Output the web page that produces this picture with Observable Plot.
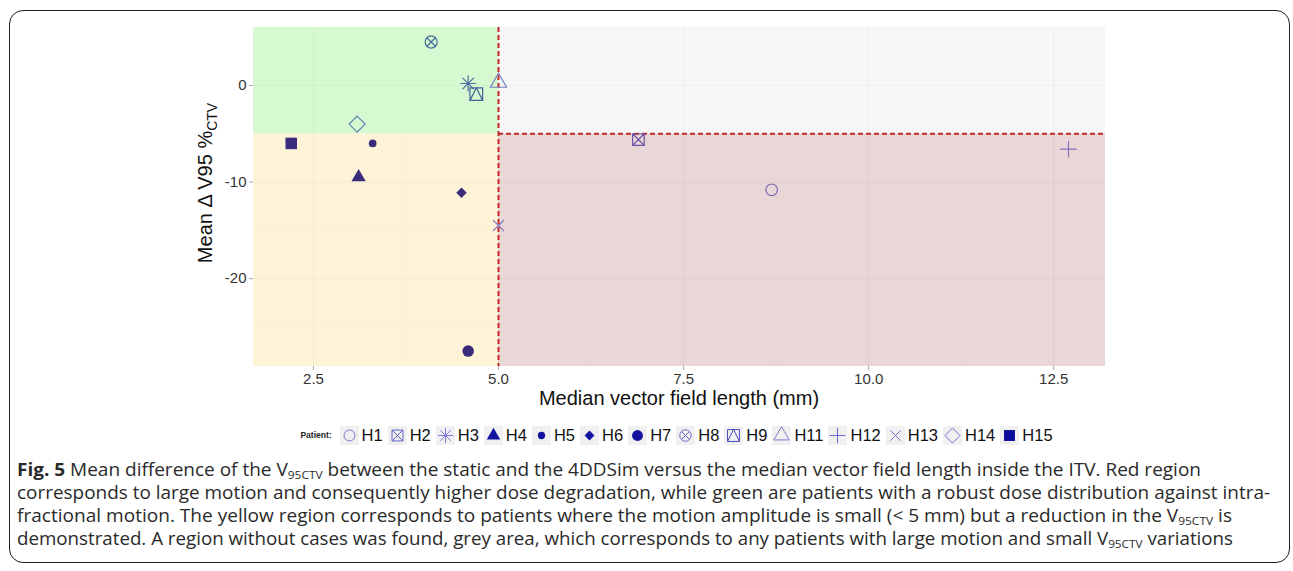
<!DOCTYPE html>
<html>
<head>
<meta charset="utf-8">
<script src="https://cdn.jsdelivr.net/npm/d3@7"></script>
<script src="https://cdn.jsdelivr.net/npm/@observablehq/plot@0.6"></script>
<style>
  html, body { margin: 0; padding: 0; background: #fff; }
  #page { position: relative; width: 1293px; height: 571px; overflow: hidden; font-family: "Liberation Sans", Arial, sans-serif; }
  #frame { position: absolute; left: 9px; top: 10px; width: 1281px; height: 553px; border: 1.6px solid #1e1e1e; border-radius: 14px; box-sizing: border-box; }
  #chart { position: absolute; left: 0; top: 0; }
  #legend { position: absolute; top: 425px; left: 0; width: 1358px; display: flex; justify-content: center; align-items: center; height: 20px; }
  #legend .title { font-size: 8.5px; font-weight: bold; color: #222; margin-right: 8px; }
  #legend .item { display: flex; align-items: center; margin-right: 5px; }
  #legend .item svg { display: block; margin-right: 3px; }
  #legend .item span { font-size: 16.5px; color: #111; }
  #caption { position: absolute; left: 17px; top: 458px; color: #2a2a2a;
    font-family: "Open Sans", "Liberation Sans Narrow", sans-serif; font-size: 17.5px; }
  #caption .line { height: 23px; line-height: 23px; white-space: nowrap; transform-origin: 0 50%; display: block; width: max-content; }
  #caption sub { font-size: 11px; vertical-align: -3px; line-height: 0; }
</style>
</head>
<body>
<div id="page">
  <div id="frame"></div>
  <div id="chart"></div>
  <div id="legend"></div>
  <div id="caption"></div>
</div>
<script>
// ---------------- data ----------------
const patients = ["H1","H2","H3","H4","H5","H6","H7","H8","H9","H11","H12","H13","H14","H15"];
const medianVectorLength = [8.69, 6.89, 4.59, 3.11, 3.30, 4.50, 4.59, 4.09, 4.70, 5.00, 12.70, 5.00, 3.09, 2.20];
const meanDeltaV95 = [-10.8, -5.6, 0.2, -9.5, -6.0, -11.1, -27.5, 4.5, -0.9, 0.3, -6.6, -14.5, -4.0, -6.0];
const shapes = ["circleOpen","squareCross","asterisk","triangle","dotSmall","diamond","circle","circleCross","squareTriangle","triangleOpen","plus","cross","diamondOpen","square"];
const xTicks = [2.5, 5.0, 7.5, 10.0, 12.5];
const xMinor = [3.75, 6.25, 8.75, 11.25];
const yTicks = [-20, -10, 0];
const yMinor = [-25, -15, -5, 5];
const xDomain = [1.69, 13.2];
const yDomain = [-29.1, 6.0];
const motionThreshold = 5;     // mm
const doseThreshold = -5;      // %

// ---------------- styles ----------------
const pointColors = ["#7d66b5","#6a52a6","#4a6e9f","#3a2c7c","#3a2c7c","#3a2c7c","#3a2c7c","#466e99","#3f6596","#7a80c6","#8a70b8","#8a7ac0","#5a80b0","#3a2c7c"];
const legendColors = ["#7676d2","#6464c8","#7c7ce0","#12129e","#12129e","#12129e","#12129e","#6a6acc","#5050c0","#7e7ed0","#6a6ad8","#7a7ad8","#7070d8","#0c0c9a"];
const regionColors = { green: "#d7f9d1", yellow: "#fdf4d8", red: "#e9d6d6", grey: "#f7f7f7" };
const dashColor = "#c4282b";

// custom symbols (ggplot shapes)
function sym(drawFn, filled) { return { filled, draw(ctx, size) { drawFn(ctx, Math.sqrt(size / Math.PI)); } }; }
const symbols = {
  circleOpen: sym((c, r) => { r *= 1.05; c.moveTo(r, 0); c.arc(0, 0, r, 0, 2 * Math.PI); }, false),
  circle: sym((c, r) => { r *= 1.05; c.moveTo(r, 0); c.arc(0, 0, r, 0, 2 * Math.PI); }, true),
  dotSmall: sym((c, r) => { r *= 0.7; c.moveTo(r, 0); c.arc(0, 0, r, 0, 2 * Math.PI); }, true),
  square: sym((c, r) => { const s = r * 1.05; c.rect(-s, -s, 2 * s, 2 * s); }, true),
  squareCross: sym((c, r) => { const s = r * 1.05; c.rect(-s, -s, 2 * s, 2 * s); c.moveTo(-s, -s); c.lineTo(s, s); c.moveTo(s, -s); c.lineTo(-s, s); }, false),
  squareTriangle: sym((c, r) => { const s = r * 1.15; c.rect(-s, -s, 2 * s, 2 * s); c.moveTo(0, -s); c.lineTo(s, s); c.lineTo(-s, s); c.closePath(); }, false),
  circleCross: sym((c, r) => { r *= 1.1; c.moveTo(r, 0); c.arc(0, 0, r, 0, 2 * Math.PI); const d = r * 0.707; c.moveTo(-d, -d); c.lineTo(d, d); c.moveTo(d, -d); c.lineTo(-d, d); }, false),
  asterisk: sym((c, r) => { const a = r * 1.45, d = a * 0.707; c.moveTo(-a, 0); c.lineTo(a, 0); c.moveTo(0, -a); c.lineTo(0, a); c.moveTo(-d, -d); c.lineTo(d, d); c.moveTo(d, -d); c.lineTo(-d, d); }, false),
  triangle: sym((c, r) => { const R = r * 1.5; c.moveTo(0, -R); c.lineTo(R * 0.866, R * 0.5); c.lineTo(-R * 0.866, R * 0.5); c.closePath(); }, true),
  triangleOpen: sym((c, r) => { const R = r * 1.7; c.moveTo(0, -R); c.lineTo(R * 0.866, R * 0.5); c.lineTo(-R * 0.866, R * 0.5); c.closePath(); }, false),
  diamond: sym((c, r) => { const d = r * 0.95; c.moveTo(0, -d); c.lineTo(d, 0); c.lineTo(0, d); c.lineTo(-d, 0); c.closePath(); }, true),
  diamondOpen: sym((c, r) => { const d = r * 1.45; c.moveTo(0, -d); c.lineTo(d, 0); c.lineTo(0, d); c.lineTo(-d, 0); c.closePath(); }, false),
  plus: sym((c, r) => { const a = r * 1.5; c.moveTo(-a, 0); c.lineTo(a, 0); c.moveTo(0, -a); c.lineTo(0, a); }, false),
  cross: sym((c, r) => { const a = r * 1.0; c.moveTo(-a, -a); c.lineTo(a, a); c.moveTo(a, -a); c.lineTo(-a, a); }, false)
};

// ---------------- table ----------------
const rows = patients.map((p, i) => ({ patient: p, x: medianVectorLength[i], y: meanDeltaV95[i], shape: shapes[i], color: pointColors[i] }));
const regions = [
  { x1: xDomain[0], x2: motionThreshold, y1: doseThreshold, y2: yDomain[1], fill: regionColors.green },
  { x1: xDomain[0], x2: motionThreshold, y1: yDomain[0], y2: doseThreshold, fill: regionColors.yellow },
  { x1: motionThreshold, x2: xDomain[1], y1: yDomain[0], y2: doseThreshold, fill: regionColors.red },
  { x1: motionThreshold, x2: xDomain[1], y1: doseThreshold, y2: yDomain[1], fill: regionColors.grey }
];

const W = 1293, H = 410, mL = 253, mR = 188, mT = 27, mB = 44;
const R = 5.5;

const marks = [
  ...regions.map(r => Plot.rect([r], { x1: "x1", x2: "x2", y1: "y1", y2: "y2", fill: r.fill })),
  Plot.ruleX(xTicks, { stroke: "#000", strokeOpacity: 0.035, strokeWidth: 1 }),
  Plot.ruleX(xMinor, { stroke: "#000", strokeOpacity: 0.022, strokeWidth: 0.6 }),
  Plot.ruleY(yTicks, { stroke: "#000", strokeOpacity: 0.035, strokeWidth: 1 }),
  Plot.ruleY(yMinor, { stroke: "#000", strokeOpacity: 0.022, strokeWidth: 0.6 }),
  Plot.ruleX([motionThreshold], { stroke: dashColor, strokeWidth: 2, strokeDasharray: "5,3" }),
  Plot.ruleY([doseThreshold], { x1: motionThreshold, x2: xDomain[1], stroke: dashColor, strokeWidth: 2, strokeDasharray: "5,3" }),
  ...rows.map(d => {
    const s = symbols[d.shape];
    return Plot.dot([d], {
      x: "x", y: "y", r: R, symbol: s,
      fill: s.filled ? d.color : "none",
      stroke: s.filled ? "none" : d.color,
      strokeWidth: 1.2
    });
  })
];

const svg = Plot.plot({
  width: W, height: H,
  marginLeft: mL, marginRight: mR, marginTop: mT, marginBottom: mB,
  style: { fontSize: "15px", fontFamily: "'Liberation Sans', Arial, sans-serif", color: "#333", background: "transparent", overflow: "visible" },
  x: { domain: xDomain, ticks: xTicks, tickFormat: d3.format(".1f"), tickSize: 4, tickPadding: 3, label: null },
  y: { domain: yDomain, ticks: yTicks, tickFormat: d => d3.format("d")(d).replace("\u2212", "-"), tickSize: 4, tickPadding: 3, label: null },
  marks
});
document.getElementById("chart").appendChild(svg);

// tick marks light gray
d3.select(svg).selectAll("g[aria-label='x-axis'] line, g[aria-label='y-axis'] line, g[aria-label='x-axis tick'] path, g[aria-label='y-axis tick'] path")
  .attr("stroke", "#aaa");

// axis titles
const s = d3.select(svg);
s.append("text")
  .attr("x", (mL + W - mR) / 2).attr("y", 398).attr("dy", "0.35em")
  .attr("text-anchor", "middle")
  .attr("font-family", "'Liberation Sans', Arial, sans-serif").attr("font-size", 20).attr("fill", "#111")
  .text("Median vector field length (mm)");
const yl = s.append("text")
  .attr("transform", `translate(${mL - 41},183) rotate(-90)`)
  .attr("text-anchor", "middle")
  .attr("font-family", "'Liberation Sans', Arial, sans-serif").attr("font-size", 20).attr("fill", "#111");
yl.append("tspan").text("Mean \u0394 V95 %");
yl.append("tspan").attr("font-size", 14).attr("dy", "0.35em").text("CTV");

// ---------------- legend ----------------
const legend = d3.select("#legend");
legend.append("span").attr("class", "title").text("Patient:");
patients.forEach((p, i) => {
  const it = legend.append("div").attr("class", "item");
  const sv = it.append("svg").attr("width", 19).attr("height", 19);
  sv.append("rect").attr("width", 19).attr("height", 19).attr("fill", "#f0f0f0");
  const sy = symbols[shapes[i]];
  sv.append("path")
    .attr("transform", "translate(9.5,9.5)")
    .attr("d", d3.symbol(sy, Math.PI * 5.2 * 5.2)())
    .attr("fill", sy.filled ? legendColors[i] : "none")
    .attr("stroke", sy.filled ? "none" : legendColors[i])
    .attr("stroke-width", 1);
  it.append("span").text(p);
});

// ---------------- caption ----------------
const captionLines = [
  ['<b>Fig. 5</b> Mean difference of the V<sub>95CTV</sub> between the static and the 4DDSim versus the median vector field length inside the ITV. Red region', 1184],
  ['corresponds to large motion and consequently higher dose degradation, while green are patients with a robust dose distribution against intra-', 1253],
  ['fractional motion. The yellow region corresponds to patients where the motion amplitude is small (&lt; 5 mm) but a reduction in the V<sub>95CTV</sub> is', 1215],
  ['demonstrated. A region without cases was found, grey area, which corresponds to any patients with large motion and small V<sub>95CTV</sub> variations', 1216]
];
const cap = document.getElementById("caption");
captionLines.forEach(([html, target]) => {
  const el = document.createElement("span");
  el.className = "line";
  el.innerHTML = html;
  cap.appendChild(el);
  const w = el.getBoundingClientRect().width;
  if (w > 0) el.style.transform = `scaleX(${target / w})`;
});
</script>
</body>
</html>
